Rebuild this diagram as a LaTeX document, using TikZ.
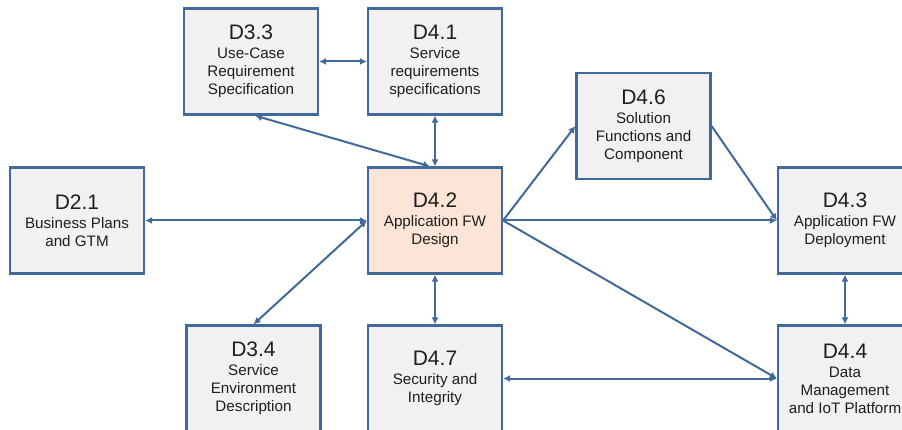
\documentclass[tikz,border=0pt]{standalone}
\usepackage{fontspec}
\setmainfont{Liberation Sans}
\usetikzlibrary{arrows.meta}
\definecolor{edgeblue}{HTML}{41699C}
\definecolor{boxgray}{HTML}{F1F1F1}
\definecolor{peach}{HTML}{FCE5D6}
\definecolor{inktext}{HTML}{1E1E1E}
\newcommand{\deliv}[2]{{\fontsize{21}{22}\selectfont #1}\\[1pt]#2}
\tikzset{
  dbox/.style={draw=edgeblue, line width=2.2pt, fill=boxgray, minimum width=134pt,
    minimum height=106pt, inner sep=2pt, align=center, text=inktext,
    font=\fontsize{15.2}{18}\selectfont},
  hot/.style={fill=peach},
  link/.style={draw=edgeblue, line width=2pt},
  both/.style={link, {Latex[length=7pt,width=7pt]}-{Latex[length=7pt,width=7pt]}},
  tohead/.style={link, -{Latex[length=7pt,width=7pt]}}
}
\begin{document}
\begin{tikzpicture}[x=1pt,y=-1pt]
\useasboundingbox (0,0) rectangle (902,430);
\fill[white] (0,0) rectangle (902,430);

% deliverable boxes
\node[dbox] (d33) at (251,61.5) {\deliv{D3.3}{Use-Case\\Requirement\\Specification}};
\node[dbox] (d41) at (435,61.5) {\deliv{D4.1}{Service\\requirements\\specifications}};
\node[dbox] (d46) at (643.5,126) {\deliv{D4.6}{Solution\\Functions and\\Component}};
\node[dbox] (d21) at (77,220.5) {\deliv{D2.1}{Business Plans\\and GTM}};
\node[dbox,hot] (d42) at (435,220.5) {\deliv{D4.2}{Application FW\\Design}};
\node[dbox] (d43) at (845,220.5) {\deliv{D4.3}{Application FW\\Deployment}};
\node[dbox] (d34) at (253.5,378.5) {\deliv{D3.4}{Service\\Environment\\Description}};
\node[dbox] (d47) at (435,378.5) {\deliv{D4.7}{Security and\\Integrity}};
\node[dbox] (d44) at (845,378.5) {\deliv{D4.4}{Data\\Management\\and IoT Platform}};

% links between deliverables
\draw[both] (d33.east) -- (d41.west);
\draw[both] ([xshift=4pt]d33.south) -- ([xshift=-5pt]d42.north);
\draw[both] (d41.south) -- (d42.north);
\draw[both] (d21.east) -- (d42.west);
\draw[both] (d34.north) -- (d42.west);
\draw[both] (d42.south) -- (d47.north);
\draw[both] (d43.south) -- (d44.north);
\draw[both] (d47.east) -- (d44.west);
\draw[tohead] (d42.east) -- (d46.west);
\draw[tohead] (d46.east) -- (d43.west);
\draw[tohead] (d42.east) -- (d43.west);
\draw[tohead] (d42.east) -- (d44.west);
\end{tikzpicture}
\end{document}
